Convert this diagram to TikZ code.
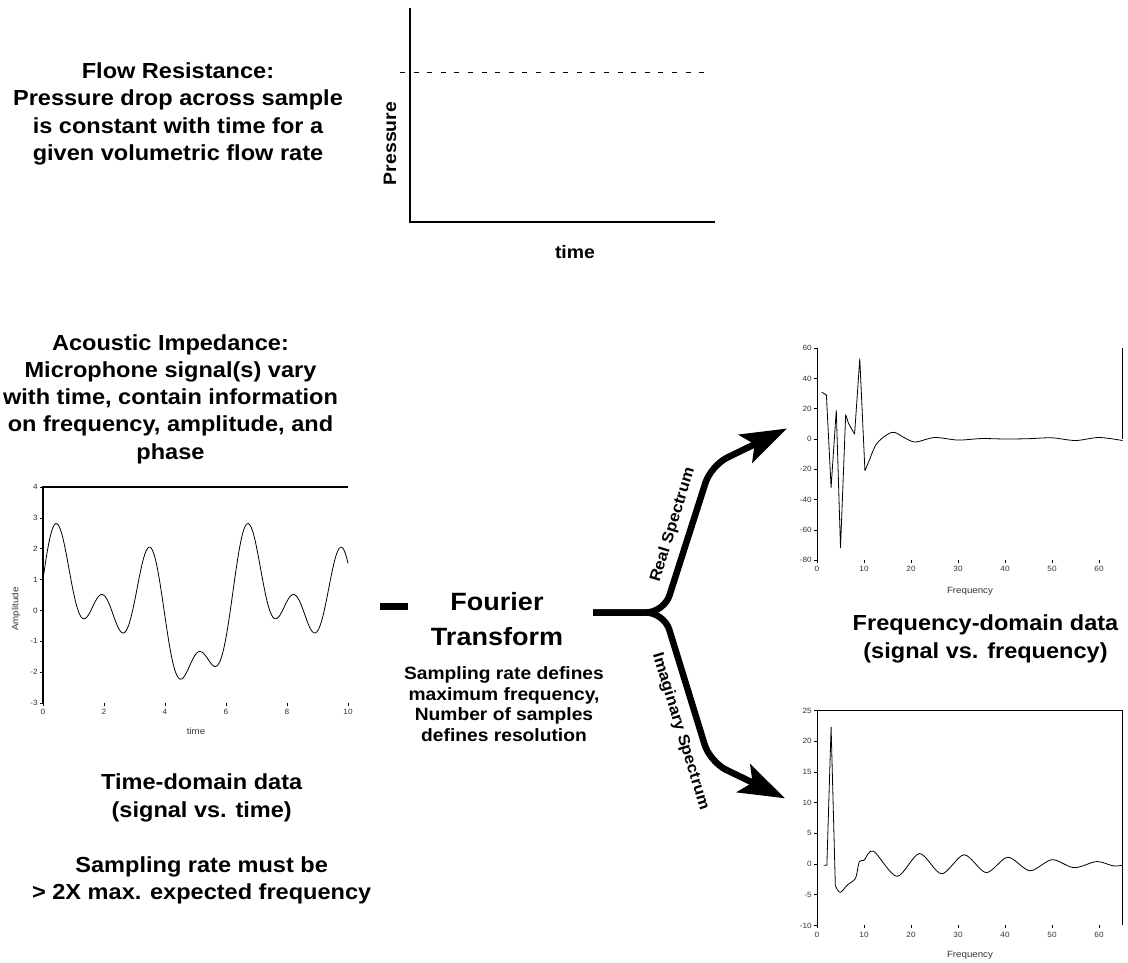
\documentclass[tikz,border=0pt]{standalone}
\usepackage{fontspec}
\setmainfont{Liberation Sans}[FakeStretch=1.08]
\usetikzlibrary{arrows.meta}
\usetikzlibrary{positioning}

\begin{document}
\begin{tikzpicture}[x=1pt, y=-1pt,
    every node/.style={inner sep=0pt, align=center},
    head/.style={font=\fontsize{21.8}{27.3}\selectfont\bfseries},
    note/.style={font=\fontsize{17.8}{20.5}\selectfont\bfseries},
    axlbl/.style={font=\fontsize{18}{20}\selectfont\bfseries},
    spec/.style={font=\fontsize{15.7}{18}\selectfont\bfseries},
    ticklbl/.style={font=\fontsize{7.6}{9}\selectfont, text=black!80},
    plotlbl/.style={font=\fontsize{9}{10}\selectfont, text=black!80},
    axis/.style={line width=1.3pt},
    tick/.style={line width=0.6pt},
    signal/.style={line width=0.8pt, line join=round},
    flow/.style={line width=6.5pt, rounded corners=18pt,
      -{Stealth[length=46pt, width=31pt, inset=10pt]}}]

  \useasboundingbox (0,0) rectangle (1128,962);

  % flow resistance
  \node[head] (flowlbl) at (178,114) {Flow Resistance:\\Pressure drop across sample\\is constant with time for a\\given volumetric flow rate};
  \draw[line width=2pt] (410,8) -- (410,221.7) -- (715,221.7);
  \draw[line width=1.5pt, dash pattern=on 5pt off 8.6pt] (400,72.7) -- (705,72.7);
  \node[axlbl, rotate=90] (preslbl) at (390,143.5) {Pressure};
  \node[axlbl] (timelbl) at (575,252) {time};

  % time domain
  \node[head] (aclbl) at (170.5,399) {Acoustic Impedance:\\Microphone signal(s) vary\\with time, contain information\\on frequency, amplitude, and\\phase};
  \begin{scope}[shift={(43,610.4)}, x=30.5pt, y=30.86pt]
    \draw[axis] (0,-3) -- (0,4) -- (10,4);
    \foreach \v in {-3,...,4}
      \draw[tick] (0,\v) -- ++(-3pt,0) node[ticklbl, left=2pt] {\v};
    \foreach \t in {0,2,...,10}
      \draw[tick] (\t,-3) -- ++(0,-3pt) node[ticklbl, below=3pt] {\t};
    \draw[signal] plot[domain=0:10, samples=240, smooth, variable=\t]
      (\t, {sin(\t r)+sin(2*\t r)+cos(2*\t r)+sin(4*\t r)});
  \end{scope}
  \node[plotlbl, rotate=90] (amplbl) at (16,609) {Amplitude};
  \node[plotlbl] (tdxlbl) at (196,731.7) {time};
  \node[head] (tdlbl) at (201.7,798) {Time-domain data\\(signal vs. time)};
  \node[head] (srlbl) at (201.7,880.6) {Sampling rate must be\\> 2X max. expected frequency};

  % transform
  \node[fill=black, minimum width=28pt, minimum height=7pt] (bar) at (394,606.5) {};
  \node[head, font=\fontsize{25}{35}\selectfont\bfseries] (ftlbl) at (497,619) {Fourier\\Transform};
  \node[note] (ftnote) at (504,704) {Sampling rate defines\\maximum frequency,\\Number of samples\\defines resolution};

  \coordinate (ftout) at (593,612.5);
  \coordinate (fork) at (664,612.5);
  \coordinate (rebend) at (711,465.5);
  \coordinate (imbend) at (710,762);
  \coordinate (retip) at (787,428.5);
  \coordinate (imtip) at (785,798.3);
  \draw[flow] (ftout) -- (fork) -- (rebend) -- (retip);
  \draw[flow] (ftout) -- (fork) -- (imbend) -- (imtip);
  \node[spec, rotate=72.8] (relbl) at (673,525) {Real Spectrum};
  \node[spec, rotate=-73] (imlbl) at (680.5,731.7) {Imaginary Spectrum};

  % real spectrum
  \begin{scope}[shift={(817,439)}, x=4.7pt, y=1.514pt]
    \draw[tick] (0,-80) -- (0,60);
    \draw[tick] (65,60) -- (65,0);
    \foreach \v in {-80,-60,...,60}
      \draw[tick] (0,\v) -- ++(-3pt,0) node[ticklbl, left=2pt] {\v};
    \foreach \f in {0,10,...,60}
      \draw[tick] (\f,-80) -- ++(0,-3pt) node[ticklbl, below=3pt] {\f};
    \draw[signal] (1,31) -- (2,29) -- (3,-32) -- (4.1,19) -- (5,-72) -- (6.1,16)
      -- (6.7,10.4) -- (7.4,6.4) -- (8,3.3) -- (9.1,53) -- (10.2,-21)
      plot[smooth] coordinates {(10.2,-21) (11,-15) (12.6,-3.5) (14.9,2.9) (16.5,4.4)
      (18.8,0.5) (21,-2) (25,1) (30,-0.7) (35,0.3) (40,0) (45,0.2) (50,0.8)
      (55,-1) (60,1) (65,-1)};
  \end{scope}
  \node[plotlbl] (rexlbl) at (970,591.7) {Frequency};
  \node[head] (fdlbl) at (985.5,639) {Frequency-domain data\\(signal vs. frequency)};

  % imaginary spectrum
  \begin{scope}[shift={(817,864)}, x=4.7pt, y=6.14pt]
    \draw[tick] (0,-10) -- (0,25) -- (65,25) -- (65,-10);
    \foreach \v in {-10,-5,...,25}
      \draw[tick] (0,\v) -- ++(-3pt,0) node[ticklbl, left=2pt] {\v};
    \foreach \f in {0,10,...,60}
      \draw[tick] (\f,-10) -- ++(0,-3pt) node[ticklbl, below=3pt] {\f};
    \draw[signal] (1.4,-0.2) -- (2.1,-0.2) -- (3,22.3) -- (3.9,-3.5) -- (4.2,-4)
      plot[smooth] coordinates {(4.2,-4) (5,-4.6) (6.5,-3.4) (8.2,-2.3) (9,0.4)
      (10,0.6) (12,2.1) (17,-2) (21.8,1.7) (26.5,-1.6) (31.3,1.5) (36,-1.4)
      (40.6,1.1) (45.3,-1.1) (50,0.7) (54.7,-0.6) (59.5,0.4) (63,-0.3) (65,-0.2)};
  \end{scope}
  \node[plotlbl] (imxlbl) at (970,955) {Frequency};
\end{tikzpicture}
\end{document}
